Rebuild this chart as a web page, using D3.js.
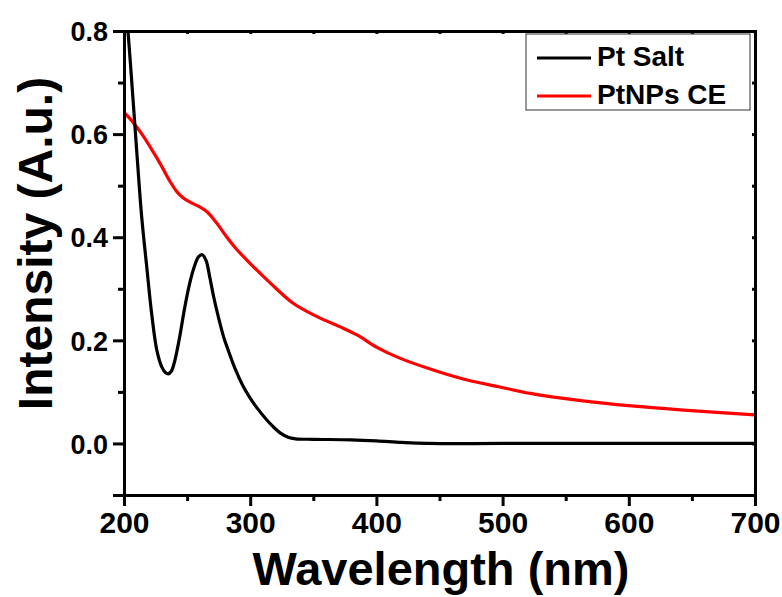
<!DOCTYPE html>
<html><head><meta charset="utf-8">
<script src="https://cdn.jsdelivr.net/npm/d3@7/dist/d3.min.js"></script>
<style>html,body{margin:0;padding:0;background:#fff;} text{font-family:Arial,"Liberation Sans",sans-serif;font-weight:bold;fill:#000;}</style>
</head><body><svg id="c" width="782" height="597"></svg>
<script>
// Data
const saltWl  = [200,205,210,214,218,222,226,230,233,235,237.5,240,244,248,252,256,259,262,265,268,271,275,279,283,288,294,300,306,313,318,324,330,336,350,380,400,420,440,500,600,700];
const saltVal = [0.90,0.74,0.57,0.44,0.343,0.25,0.181,0.148,0.137,0.135,0.14,0.158,0.205,0.262,0.31,0.345,0.362,0.366,0.355,0.322,0.285,0.243,0.206,0.178,0.145,0.113,0.088,0.067,0.046,0.033,0.02,0.012,0.009,0.008,0.007,0.005,0.002,0.0,0.0,0.0,0.0];
const npWl  = [200,204,208.7,215,223,230,236.5,242,247,253,260,266,273.6,280,288,300,316,334,353,371,385,400,419,445,472,497,522,562,602,641,700];
const npVal = [0.642,0.632,0.618,0.597,0.566,0.537,0.508,0.488,0.476,0.467,0.459,0.449,0.427,0.405,0.38,0.349,0.311,0.272,0.246,0.2265,0.210,0.187,0.165,0.1425,0.123,0.110,0.097,0.083,0.0727,0.065,0.0553];
const seriesNames = ["Pt Salt","PtNPs CE"];
const seriesColors = ["#000000","#ff0000"];
const xTicks = [200,300,400,500,600,700];
const yTicks = [0.0,0.2,0.4,0.6,0.8];

const svg = d3.select("#c");
const L=124,R=755,T=31,B=495;
const x = d3.scaleLinear().domain([200,700]).range([L,R]);
const y = d3.scaleLinear().domain([-0.1,0.8]).range([B,T]);

svg.append("defs").append("clipPath").attr("id","clip")
  .append("rect").attr("x",L).attr("y",T).attr("width",R-L).attr("height",B-T);

const line = d3.line().x(d=>x(d[0])).y(d=>y(d[1])).curve(d3.curveCatmullRom.alpha(0.5));
const data = [d3.zip(saltWl,saltVal), d3.zip(npWl,npVal)];
[1,0].forEach(i=>{
  svg.append("path").attr("clip-path","url(#clip)").attr("d",line(data[i]))
    .attr("fill","none").attr("stroke",seriesColors[i]).attr("stroke-width",3.2).attr("stroke-linejoin","round");
});

// Axes
const xAxis = d3.axisBottom(x).tickValues(xTicks).tickFormat(d3.format("d")).tickSize(11).tickPadding(6);
const gx = svg.append("g").attr("transform",`translate(0,${B})`).call(xAxis);
gx.selectAll("text").style("font-size","30px");
const xMinor = d3.axisBottom(x).tickValues([250,350,450,550,650]).tickSize(6).tickFormat("");
svg.append("g").attr("transform",`translate(0,${B})`).call(xMinor);

const yAxis = d3.axisLeft(y).tickValues(yTicks).tickFormat(d3.format(".1f")).tickSize(11).tickPadding(5);
const gy = svg.append("g").attr("transform",`translate(${L},0)`).call(yAxis);
gy.selectAll("text").style("font-size","27px").attr("dy","0.36em");
const yMinor = d3.axisLeft(y).tickValues([-0.1,0.1,0.3,0.5,0.7]).tickSize(6).tickFormat("");
svg.append("g").attr("transform",`translate(${L},0)`).call(yMinor);

// mirrored top/right axes with small inward ticks
const xTop = d3.axisTop(x).tickValues(xTicks.concat([250,350,450,550,650])).tickSize(-3).tickFormat("");
svg.append("g").attr("transform",`translate(0,${T})`).call(xTop);
const yRight = d3.axisRight(y).tickValues([-0.1,0,0.1,0.2,0.3,0.4,0.5,0.6,0.7,0.8]).tickSize(-3).tickFormat("");
svg.append("g").attr("transform",`translate(${R},0)`).call(yRight);

svg.selectAll(".domain").attr("stroke","#000").attr("stroke-width",3);
svg.selectAll(".tick line").attr("stroke","#000").attr("stroke-width",3);

// Axis titles
svg.append("text").attr("x",441).attr("y",585).attr("text-anchor","middle")
  .style("font-size","47px").text("Wavelength (nm)");
svg.append("text").attr("transform","translate(52,243.5) rotate(-90)").attr("text-anchor","middle")
  .style("font-size","48px").text("Intensity (A.u.)");

// Legend
const lg = svg.append("g");
lg.append("rect").attr("x",526).attr("y",34).attr("width",224).attr("height",76)
  .attr("fill","#fff").attr("stroke","#333").attr("stroke-width",1);
const legY=[58,96], legBase=[66,104];
seriesNames.forEach((n,i)=>{
  lg.append("line").attr("x1",537).attr("x2",591).attr("y1",legY[i]).attr("y2",legY[i])
    .attr("stroke",seriesColors[i]).attr("stroke-width",3);
  lg.append("text").attr("x",597).attr("y",legBase[i]).style("font-size","28px").text(n);
});
</script></body></html>
